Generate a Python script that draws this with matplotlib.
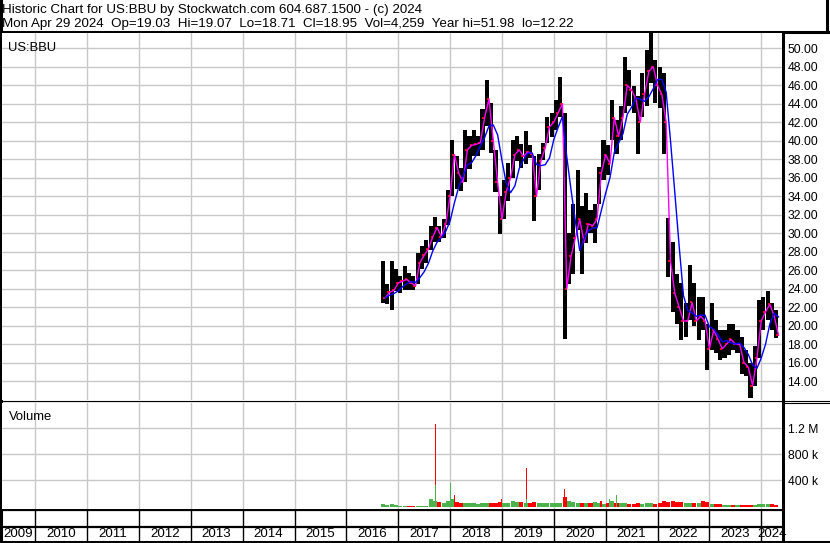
import matplotlib
matplotlib.use('Agg')
import matplotlib.pyplot as plt
import numpy as np
import pandas as pd

plt.rcParams['font.family'] = ['Liberation Sans', 'DejaVu Sans']

W, H = 830, 543

# monthly bars, Sep 2016 .. Apr 2024
first_month = '2016-09'
last_month = '2024-04'
highs = [27.0, 24.5, 27.0, 26.1,
         25.4, 26.4, 25.7, 25.4, 27.9, 28.6, 29.3, 30.8, 31.8, 30.8, 31.5, 34.7,
         40.1, 38.3, 37.0, 41.2, 40.5, 41.2, 40.5, 43.4, 46.6, 44.1, 39.0, 34.0,
         35.8, 37.6, 40.1, 40.5, 39.6, 41.0, 39.5, 38.3, 38.6, 39.7, 42.6, 43.0,
         44.4, 46.9, 43.0, 30.0, 33.2, 36.8, 32.9, 34.3, 32.5, 33.2, 37.2, 40.1,
         39.5, 44.4, 42.2, 43.7, 49.1, 47.7, 45.9, 44.8, 47.3, 49.8, 51.98, 48.7,
         48.0, 47.3, 31.6, 29.0, 25.6, 24.6, 22.4, 26.6, 24.6, 23.1, 23.1, 20.2,
         22.4, 20.6, 19.5, 19.5, 20.2, 20.2, 19.5, 18.8, 17.4, 15.9, 17.8, 22.8,
         23.1, 23.7, 22.4, 21.7]
lows = [22.4, 22.3, 21.7, 23.7,
        23.5, 23.9, 23.9, 23.9, 24.5, 26.1, 26.8, 28.2, 29.0, 29.0, 29.5, 30.9,
        34.0, 34.8, 34.6, 35.5, 36.9, 38.3, 38.3, 39.0, 41.6, 38.7, 34.4, 29.9,
        31.5, 33.5, 36.0, 37.8, 37.0, 37.5, 38.1, 31.3, 34.7, 37.9, 39.7, 40.4,
        41.2, 42.6, 18.6, 24.5, 25.6, 30.3, 25.6, 28.9, 30.0, 28.9, 33.2, 35.8,
        36.3, 40.1, 38.6, 40.1, 43.0, 43.7, 43.0, 38.6, 42.6, 43.7, 46.2, 44.1,
        43.5, 38.6, 25.3, 21.5, 20.2, 18.4, 18.8, 20.6, 20.0, 18.4, 19.5, 15.2,
        17.4, 17.0, 16.3, 16.5, 16.8, 17.4, 17.0, 14.8, 14.5, 12.22, 13.5, 16.5,
        19.5, 20.6, 19.5, 18.71]
closes = [23.0, 23.6, 23.8, 24.6,
          24.8, 25.0, 24.6, 24.3, 26.8, 27.6, 28.3, 29.6, 30.6, 29.6, 31.0, 34.0,
          38.5, 36.5, 35.5, 39.0, 39.5, 39.6, 39.8, 42.5, 44.5, 40.0, 35.5, 31.5,
          34.5, 36.0, 38.5, 39.0, 38.3, 38.8, 38.6, 34.0, 37.8, 39.2, 41.5, 42.0,
          43.0, 44.0, 24.0, 27.5, 29.5, 31.5, 29.0, 31.0, 30.8, 31.5, 36.5, 38.5,
          37.5, 42.5, 40.5, 42.5, 46.0, 45.5, 44.5, 42.0, 45.0, 47.5, 48.0, 46.0,
          45.0, 42.0, 27.0, 23.5, 22.0, 20.5, 20.5, 22.5, 20.5, 21.0, 20.5, 17.5,
          19.5, 18.5, 17.5, 18.0, 18.5, 18.0, 18.0, 16.0, 15.5, 13.5, 16.5, 20.5,
          21.5, 22.3, 21.0, 18.95]
volumes_k = [40, 30, 35, 25,
             15, 10, 10, 10, 12, 10, 15, 110, 90, 70, 60, 80,
             120, 70, 60, 50, 55, 50, 45, 55, 50, 60, 55, 65,
             60, 50, 90, 70, 65, 60, 55, 70, 60, 55, 50, 50,
             55, 60, 140, 90, 70, 60, 55, 50, 60, 70, 50, 45,
             50, 90, 60, 60, 50, 45, 40, 50, 45, 50, 55, 45,
             50, 90, 70, 80, 75, 70, 60, 60, 55, 60, 80, 70,
             45, 35, 35, 30, 30, 25, 25, 30, 25, 30, 25, 40,
             40, 35, 35, 30]

# single-day volume spikes
spike_dates = [2017.71, 2017.71, 2018.01, 2018.08, 2019.00, 2019.47, 2019.47,
               2020.18, 2020.21, 2020.91, 2021.07, 2021.20]
spike_vols_k = [1270, 323, 355, 170, 108, 585, 118, 140, 272, 92, 118, 170]
spike_colors = ['red', 'green', 'green', 'red', 'red', 'red', 'green',
                'red', 'red', 'red', 'green', 'green']

price_ticks = list(range(14, 51, 2))
vol_ticks = [400, 800, 1200]
vol_tick_labels = ['400 k', '800 k', '1.2 M']
years = list(range(2009, 2025))

header_line1 = 'Historic Chart for US:BBU by Stockwatch.com 604.687.1500 - (c) 2024'
header_line2 = ('Mon Apr 29 2024  Op=19.03  Hi=19.07  Lo=18.71  Cl=18.95  '
                'Vol=4,259  Year hi=51.98  lo=12.22')

RED = '#ff0000'
GREEN = '#4cb24c'
GRID = '#c8c8c8'
XLIM = (2009.36, 2024.40)


def box(x0, y0, x1, y1):
    return [x0 / W, 1 - y1 / H, (x1 - x0) / W, (y1 - y0) / H]


months = pd.period_range(first_month, last_month, freq='M')
x_mid = np.array([p.year + (p.month - 0.5) / 12 for p in months])
x_end = np.array([p.year + p.month / 12 for p in months])
highs = np.array(highs)
lows = np.array(lows)
closes = np.array(closes)
blue_ma = pd.Series(closes).rolling(4, min_periods=1).mean().values

fig = plt.figure(figsize=(W / 100, H / 100), dpi=100)

# frame in pixel coordinates
frame = fig.add_axes([0, 0, 1, 1])
frame.set_xlim(0, W)
frame.set_ylim(H, 0)
frame.axis('off')
frame.text(2, 13, header_line1, fontsize=9.6, va='baseline', ha='left')
frame.text(2, 27.5, header_line2, fontsize=9.6, va='baseline', ha='left')
frame.plot([0, W], [32, 32], color='black', lw=2.2)
frame.plot([1, 1], [0, H], color='black', lw=2.2)
frame.plot([827, 827], [0, 32], color='black', lw=2.2)
frame.plot([0, W], [400.5, 400.5], color='black', lw=0.8)
frame.plot([0, W], [402.8, 402.8], color='black', lw=0.8)
frame.plot([0, 783], [509.5, 509.5], color='black', lw=1.6)
frame.plot([0, 783], [526.5, 526.5], color='black', lw=1.6)
frame.plot([0, W], [541.5, 541.5], color='black', lw=2.2)
frame.plot([783, 783], [33, 542], color='black', lw=2.2)

# price panel
ax = fig.add_axes(box(2, 33, 782, 400))
ax.set_xlim(*XLIM)
ax.set_ylim(11.95, 51.65)
for p in price_ticks:
    ax.axhline(p, color=GRID, lw=1, zorder=0)
for y in years[1:]:
    ax.axvline(y, color=GRID, lw=1, zorder=0)
ax.bar(x_mid, highs - lows, bottom=lows, width=0.95 / 12, color='black', zorder=2)
ax.hlines(closes, x_mid, x_mid + 0.5 / 12, colors=RED, lw=1.5, zorder=3)
ax.plot(x_end, closes, color='#ff00ff', lw=1, zorder=4)
ax.plot(x_end, blue_ma, color='#0000ff', lw=1, zorder=4)
ax.set_xticks([])
ax.yaxis.tick_right()
ax.set_yticks(price_ticks)
ax.set_yticklabels(['%.2f' % p for p in price_ticks], fontsize=8.7)
ax.tick_params(axis='y', length=0, pad=4)
for s in ax.spines.values():
    s.set_visible(False)
ax.text(0.008, 0.975, 'US:BBU', transform=ax.transAxes, fontsize=9.4, va='top', ha='left')

# volume panel
vax = fig.add_axes(box(2, 403, 782, 509))
vax.set_xlim(*XLIM)
vax.set_ylim(-38, 1590)
for v in vol_ticks:
    vax.axhline(v, color=GRID, lw=1, zorder=0)
for y in years[1:]:
    vax.axvline(y, color=GRID, lw=1, zorder=0)
vol_colors = [GREEN] + [GREEN if c >= p else RED for p, c in zip(closes[:-1], closes[1:])]
vax.bar(x_mid, volumes_k, width=0.95 / 12, color=vol_colors, zorder=2)
vax.bar(spike_dates, spike_vols_k, width=0.02,
        color=[RED if c == 'red' else GREEN for c in spike_colors], zorder=3)
vax.set_xticks([])
vax.yaxis.tick_right()
vax.set_yticks(vol_ticks)
vax.set_yticklabels(vol_tick_labels, fontsize=8.7)
vax.tick_params(axis='y', length=0, pad=4)
for s in vax.spines.values():
    s.set_visible(False)
vax.text(0.009, 0.92, 'Volume', transform=vax.transAxes, fontsize=9.4, va='top', ha='left')

# year rows
yax = fig.add_axes(box(2, 510, 782, 541))
yax.set_xlim(*XLIM)
yax.set_ylim(0, 1)
yax.axis('off')
for y in years[1:]:
    yax.axvline(y, color='black', lw=1)
for y in years:
    lo = max(y, XLIM[0])
    hi = min(y + 1, XLIM[1])
    yax.text((lo + hi) / 2, 0.22, str(y), fontsize=9.6, ha='center', va='center')

fig.savefig('out.png', dpi=100)
